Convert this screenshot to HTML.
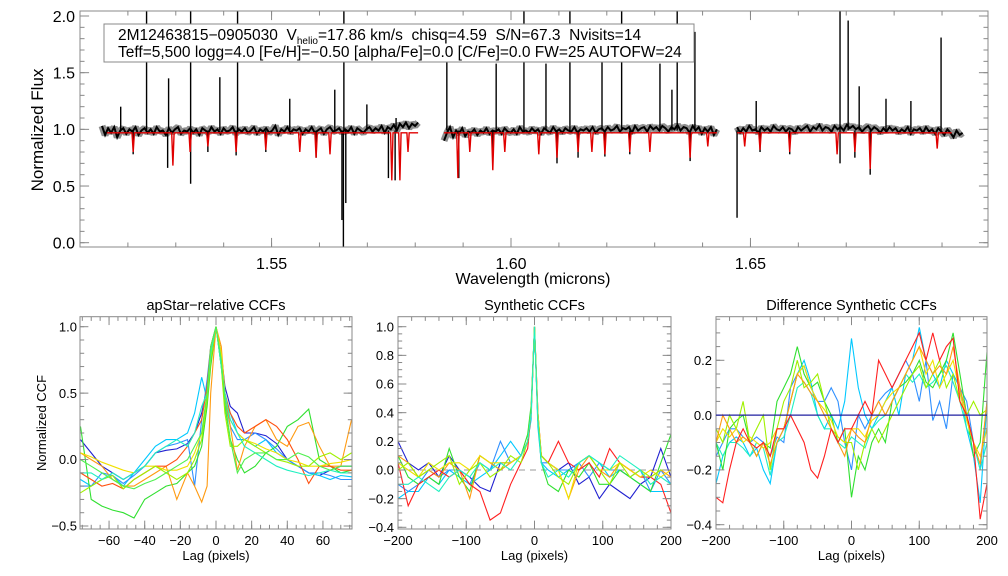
<!DOCTYPE html>
<html><head><meta charset="utf-8">
<style>
html,body{margin:0;padding:0;background:#fff;}
svg{display:block;font-family:"Liberation Sans",sans-serif;}
</style></head>
<body>
<svg id="chart" width="1008" height="576" viewBox="0 0 1008 576" xmlns="http://www.w3.org/2000/svg">
<rect x="0" y="0" width="1008" height="576" fill="#fff"/>
</svg>
<script>
// ---------- Spectrum data ----------
const chipStart = [1.5146, 1.5860, 1.6472];
const chipEnd = [1.5806, 1.6430, 1.6943];
const chip1Flux = [1.03,0.95,1.01,0.97,1.02,0.93,0.99,1.01,0.96,1.00,0.98,1.02,0.95,0.99,1.01,0.97,1.00,0.96,1.02,0.98,0.99,0.95,1.01,0.97,1.00,1.02,0.96,0.99,0.98,1.01,0.97,1.00,0.95,1.01,0.99,0.97,1.02,0.98,1.00,0.96,1.01,0.98,0.99,1.02,0.96,1.00,0.98,1.01,0.97,0.99,1.02,0.96,1.00,0.98,1.01,0.97,0.99,1.03,0.95,1.00,0.98,1.02,0.97,1.00,0.99,1.01,0.96,1.00,0.98,1.02,0.97,0.99,1.01,0.96,1.00,1.02,0.98,0.99,1.01,0.97,1.00,0.98,1.02,0.96,1.01,0.99,0.97,1.00,1.02,0.98,1.01,0.99,1.03,0.97,1.02,1.00,1.04,0.99,1.05,1.02,1.06,1.01,1.05,1.03,1.06];
const chip2Flux = [0.90,0.97,1.02,0.93,0.99,0.96,1.01,0.94,0.98,0.97,1.00,0.95,0.99,0.97,1.01,0.96,0.99,0.98,1.00,0.96,1.01,0.98,0.97,1.00,0.96,1.02,0.98,0.99,0.97,1.01,0.98,1.00,0.96,1.01,0.99,0.97,1.02,0.98,1.00,0.97,1.01,0.99,0.98,1.02,0.97,1.00,0.99,1.01,0.98,1.02,0.97,1.00,1.01,0.98,1.02,0.99,1.00,1.03,0.98,1.01,1.00,1.02,0.97,1.03,0.99,1.01,1.02,0.98,1.03,1.00,1.02,0.99,1.03,1.01,0.98,1.02,1.00,1.04,0.99,1.02,1.01,0.97,1.03,0.99,1.02,0.96,1.01,0.98,1.02,0.95,1.00];
const chip3Flux = [1.02,0.97,1.01,0.98,1.03,0.99,1.00,0.97,1.02,0.99,1.01,0.98,1.03,1.00,0.99,1.02,0.98,1.01,1.00,0.97,1.02,0.99,1.01,1.03,0.98,1.02,1.00,1.04,0.99,1.02,1.01,0.98,1.03,1.00,1.02,0.99,1.04,1.01,1.03,1.00,1.02,0.98,1.01,1.03,0.99,1.02,1.00,0.97,1.01,0.98,1.02,0.99,1.01,0.97,1.00,0.98,1.02,0.96,1.00,0.99,1.01,0.97,1.02,0.98,1.00,0.96,1.01,0.98,0.95,1.00,0.97,0.93,0.99,0.95,0.97];
const spikeWl = [1.5185,1.5239,1.5285,1.5331,1.5392,1.5429,1.5538,1.5632,1.5651,1.5699,1.5760,1.5866,1.5969,1.6027,1.6073,1.6123,1.6190,1.6231,1.6311,1.6336,1.6347,1.6384,1.6512,1.6687,1.6704,1.6727,1.6783,1.6835,1.6898];
const spikeFlux = [1.2,2.05,1.45,2.05,1.46,2.05,1.27,1.35,2.05,1.22,1.1,1.61,1.58,2.05,1.58,2.05,1.6,2.05,1.58,1.35,2.05,1.86,1.25,2.05,1.96,1.38,1.27,1.25,1.81];
const dipWl = [1.5650,1.5647,1.5655,1.5331,1.5283,1.5758,1.5744,1.5891,1.5962,1.6472,1.6750,1.6687,1.5211,1.5367,1.5488,1.5593,1.6096,1.6140,1.6248,1.6374,1.6582,1.6718,1.5426,1.6196,1.6520];
const dipFlux = [-0.05,0.2,0.35,0.52,0.66,0.55,0.57,0.57,0.65,0.22,0.6,0.7,0.78,0.8,0.8,0.75,0.7,0.75,0.78,0.72,0.78,0.75,0.77,0.76,0.8];
const modelDipWl = [1.5211,1.5294,1.5330,1.5367,1.5426,1.5488,1.5559,1.5593,1.5622,1.5751,1.5768,1.5785,1.5889,1.5914,1.5962,1.5987,1.6058,1.6096,1.6140,1.6169,1.6196,1.6248,1.6290,1.6374,1.6411,1.6488,1.6520,1.6582,1.6681,1.6718,1.6750,1.6890];
const modelDipFlux = [0.8,0.68,0.8,0.85,0.8,0.82,0.8,0.75,0.78,0.55,0.55,0.8,0.57,0.8,0.64,0.8,0.78,0.75,0.8,0.8,0.78,0.8,0.8,0.75,0.85,0.85,0.82,0.8,0.78,0.8,0.65,0.83];
const modelContinuum = 0.97;
const topXTicks = [1.55,1.60,1.65];
const topYTicks = [0.0,0.5,1.0,1.5,2.0];

// ---------- CCF data ----------
const colors = ['#2020d0','#00c8ff','#3090ff','#30e030','#ff9a10','#ff5010','#f0e000','#a0f000','#20f0c0','#50f050'];
const lag1 = [-76,-70,-64,-58,-52,-46,-40,-34,-28,-22,-16,-12,-8,-5,-3,0,3,5,8,12,16,22,28,34,40,46,52,58,64,70,76];
const ccf1 = [
[0.15,0.05,-0.05,-0.1,-0.15,-0.1,-0.05,0.05,0.07,0.08,0.12,0.2,0.35,0.55,0.8,1.0,0.8,0.55,0.4,0.35,0.2,0.2,0.18,0.12,0.0,-0.05,-0.1,-0.12,-0.08,-0.05,-0.05],
[-0.15,-0.2,-0.15,-0.12,-0.2,-0.1,0.0,0.1,0.15,0.15,0.2,0.35,0.62,0.45,0.8,1.0,0.75,0.45,0.35,0.2,0.15,0.1,0.15,0.05,0.0,-0.05,-0.1,-0.12,-0.15,-0.12,-0.13],
[-0.2,-0.2,-0.1,-0.12,-0.18,-0.12,-0.05,0.05,0.1,0.12,0.15,-0.2,0.3,0.6,0.85,1.0,0.7,0.45,0.25,0.15,0.15,0.2,0.15,0.08,0.0,-0.05,-0.1,-0.1,-0.12,-0.15,-0.15],
[0.25,-0.3,-0.35,-0.38,-0.4,-0.44,-0.3,-0.25,-0.2,-0.18,-0.1,-0.05,0.1,0.4,0.7,1.0,0.7,0.4,0.15,0.0,-0.1,-0.05,0.05,0.1,0.25,0.3,0.38,0.0,-0.05,-0.1,-0.08],
[0.05,0.0,-0.05,-0.15,-0.2,-0.2,-0.15,-0.1,-0.05,-0.3,-0.1,-0.2,-0.32,-0.2,0.5,1.0,0.85,0.5,0.25,-0.08,0.1,0.25,0.3,0.15,0.1,0.25,0.28,0.1,-0.05,-0.05,0.3],
[-0.1,-0.15,-0.2,-0.18,-0.22,-0.15,-0.1,-0.05,-0.05,0.0,0.1,0.2,0.3,0.55,0.85,1.0,0.75,0.5,0.35,0.25,0.2,0.25,0.3,0.25,0.15,0.0,-0.18,-0.05,-0.05,-0.08,-0.08],
[0.05,0.02,-0.02,-0.05,-0.08,-0.1,-0.05,-0.05,-0.08,-0.08,-0.05,0.05,0.2,0.5,0.8,1.0,0.8,0.5,0.3,0.2,0.15,0.12,0.08,0.05,0.0,-0.02,-0.05,-0.05,-0.03,-0.02,0.0],
[-0.25,-0.2,-0.15,-0.12,-0.22,-0.15,-0.1,-0.05,-0.1,-0.15,-0.1,0.0,0.15,0.45,0.75,1.0,0.7,0.35,0.1,0.1,0.15,0.1,0.05,0.0,-0.02,-0.05,-0.05,0.02,0.05,0.0,0.05],
[-0.1,-0.1,-0.15,-0.1,-0.15,-0.1,-0.05,0.05,0.1,0.15,0.1,0.2,0.4,0.5,0.8,1.0,0.7,0.5,0.3,0.2,0.1,0.05,0.0,-0.05,-0.08,-0.1,-0.12,-0.1,-0.08,-0.1,-0.1],
[0.0,-0.05,-0.1,-0.15,-0.2,-0.22,-0.18,-0.15,-0.1,-0.05,0.0,0.1,0.2,0.5,0.85,1.0,0.75,0.45,0.15,-0.1,0.0,0.05,0.05,0.0,0.0,0.05,0.02,-0.05,-0.08,-0.05,-0.05]];
const lag2 = [-200,-185,-170,-155,-140,-125,-110,-95,-80,-65,-50,-35,-20,-10,-5,0,5,10,20,35,50,65,80,95,110,125,140,155,170,185,200];
const ccf2 = [
[0.2,0.05,0.0,0.05,-0.05,0.1,0.0,-0.05,-0.12,-0.15,0.05,0.05,0.1,0.2,0.4,1.0,0.35,0.1,0.05,0.0,0.05,-0.1,-0.05,-0.2,-0.1,-0.15,-0.2,-0.1,-0.05,0.15,-0.05],
[-0.2,-0.15,-0.15,-0.05,-0.1,0.0,-0.05,-0.1,-0.05,0.0,0.1,0.2,0.1,0.2,0.35,1.0,0.3,0.05,0.0,-0.05,0.0,0.05,0.1,0.05,-0.05,0.0,-0.05,-0.1,-0.15,-0.15,-0.15],
[-0.1,-0.15,-0.1,0.0,-0.05,0.0,0.0,-0.1,0.05,0.0,0.2,0.05,0.1,0.2,0.4,1.0,0.35,0.05,0.05,0.0,0.0,0.05,-0.05,0.05,0.0,0.0,-0.05,0.0,-0.15,0.0,-0.1],
[0.1,-0.05,-0.1,-0.05,-0.1,0.15,-0.05,-0.15,0.1,0.05,0.0,0.05,0.1,0.25,0.45,1.0,0.35,0.05,-0.1,-0.15,0.0,-0.05,0.05,-0.1,-0.1,0.0,-0.05,-0.1,-0.15,0.05,0.25],
[0.1,0.05,-0.05,0.0,-0.05,0.05,0.0,-0.2,0.1,0.05,0.0,0.05,0.1,0.2,0.4,1.0,0.4,0.1,0.05,0.0,-0.2,0.0,0.1,0.0,-0.05,0.05,0.0,-0.05,-0.05,0.0,-0.05],
[0.05,-0.25,-0.1,-0.05,0.0,-0.05,0.0,-0.1,-0.15,-0.35,-0.3,-0.1,0.05,0.15,0.4,1.0,0.4,0.1,0.05,0.2,0.05,0.0,0.05,-0.05,0.15,0.05,0.0,-0.05,-0.05,-0.1,-0.3],
[0.05,0.0,-0.05,0.05,0.0,0.05,0.05,0.0,0.1,0.05,0.05,0.05,0.1,0.2,0.4,1.0,0.4,0.1,0.05,0.0,-0.2,0.05,0.1,0.0,0.0,0.05,0.0,-0.05,0.0,-0.05,0.0],
[0.0,0.05,-0.05,0.0,0.05,0.1,-0.1,0.0,0.05,-0.05,0.0,0.1,0.05,0.2,0.4,1.0,0.35,0.1,0.05,-0.05,-0.1,0.05,0.1,0.0,-0.1,0.05,-0.05,0.0,-0.05,0.0,0.0],
[-0.1,-0.1,-0.05,-0.1,-0.15,-0.05,0.0,-0.05,0.05,0.0,0.05,0.0,0.1,0.2,0.4,1.0,0.35,0.05,-0.05,0.0,-0.05,0.05,0.1,0.05,0.0,0.1,0.05,0.0,-0.1,-0.05,-0.1]];
const ccf2Colors = ['#2020d0','#00c8ff','#3090ff','#30e030','#ff9a10','#ff2020','#f0e000','#a0f000','#20f0c0'];
const lag3 = [-200,-190,-180,-170,-160,-150,-140,-130,-120,-110,-100,-90,-80,-70,-60,-50,-40,-30,-20,-10,0,10,20,30,40,50,60,70,80,90,100,110,120,130,140,150,160,170,180,190,200];
const ccf3 = [
[-0.15,-0.1,-0.05,-0.05,-0.08,-0.1,-0.08,-0.1,-0.15,-0.08,-0.1,0.1,0.15,0.18,0.1,0.05,0.05,0.1,0.05,-0.1,-0.2,0.0,-0.05,0.0,0.05,0.08,0.1,0.15,0.2,0.15,0.05,0.2,-0.02,0.05,-0.05,0.15,0.1,0.05,-0.1,-0.2,0.05],
[-0.25,-0.15,-0.1,-0.08,-0.1,-0.15,-0.12,-0.2,-0.25,-0.1,-0.05,0.05,0.15,0.2,0.12,0.0,-0.05,0.0,-0.05,0.05,0.28,0.1,0.0,-0.05,0.0,0.05,0.1,0.0,0.15,0.2,0.32,0.2,0.15,0.1,0.2,0.15,0.1,-0.05,-0.15,-0.32,0.05],
[-0.1,-0.15,-0.1,-0.1,-0.12,-0.15,-0.1,-0.12,-0.22,-0.1,-0.08,0.0,0.1,0.12,0.08,0.0,-0.05,-0.05,-0.1,-0.12,-0.08,-0.1,-0.12,-0.05,-0.02,0.0,0.05,0.1,0.15,0.12,0.15,0.1,0.12,0.15,0.18,0.12,0.05,-0.05,-0.1,-0.2,-0.1],
[-0.1,-0.2,-0.05,-0.02,0.0,-0.1,-0.15,-0.1,-0.12,0.05,0.1,0.15,0.25,0.15,0.1,0.12,0.05,0.0,-0.1,-0.05,-0.3,-0.15,-0.2,-0.1,-0.05,-0.1,0.05,0.1,0.12,0.15,0.2,0.12,0.1,0.15,0.2,0.3,0.15,0.0,-0.15,-0.1,0.23],
[-0.05,-0.1,0.0,-0.05,0.05,-0.1,-0.05,0.0,-0.2,-0.05,0.05,0.1,0.2,0.1,0.12,0.15,0.05,-0.05,-0.08,-0.1,-0.1,-0.2,-0.1,-0.05,-0.1,-0.05,0.0,0.05,0.1,0.15,0.18,0.1,0.15,0.2,0.1,0.15,0.05,0.0,0.05,0.0,0.02],
[-0.1,-0.05,-0.08,-0.05,-0.1,-0.08,-0.1,-0.12,-0.1,-0.05,-0.05,0.05,0.15,0.18,0.1,0.05,0.02,-0.02,-0.08,-0.1,-0.05,-0.05,-0.08,-0.02,0.0,0.05,0.08,0.1,0.15,0.2,0.25,0.15,0.2,0.1,0.15,0.2,0.08,-0.02,-0.1,-0.15,-0.05],
[-0.1,0.0,-0.05,-0.1,-0.08,-0.1,-0.15,-0.1,-0.18,-0.1,-0.05,0.05,0.15,0.12,0.08,0.05,0.0,-0.05,-0.1,-0.15,-0.05,-0.08,-0.1,0.0,0.05,0.0,0.05,0.1,0.15,0.2,0.25,0.2,0.15,0.18,0.15,0.25,0.1,0.0,-0.1,-0.18,0.05],
[-0.3,-0.32,-0.2,-0.1,-0.05,-0.1,-0.12,-0.1,-0.15,-0.05,-0.05,0.0,-0.05,-0.1,-0.2,-0.23,-0.15,-0.05,-0.1,-0.05,-0.05,0.0,0.05,0.0,0.2,0.15,0.1,0.15,0.2,0.25,0.3,0.2,0.3,0.2,0.25,0.28,0.05,0.0,-0.1,-0.38,-0.25]];
const ccf3Colors = ['#3090ff','#00c8ff','#20f0c0','#30e030','#a0f000','#f0e000','#ff9a10','#ff2020'];

const NS = 'http://www.w3.org/2000/svg';
const svg = document.getElementById('chart');
function el(tag, attrs, parent){
  const e = document.createElementNS(NS, tag);
  for (const k in attrs) e.setAttribute(k, attrs[k]);
  (parent||svg).appendChild(e);
  return e;
}
function lin(d0,d1,r0,r1){ return v => r0 + (v-d0)*(r1-r0)/(d1-d0); }

function drawFrame(name, x0,x1,y0,y1, sx, sy, xMaj, xMin, yMaj, yMin, xLabelFmt, yLabelFmt, fs, xLabY, yLabX){
  const g = el('g', {});
  
  
  const fr = el('rect', {x:x0,y:y0,width:x1-x0,height:y1-y0,fill:'none',stroke:'#888','stroke-width':1}, g);
  
  
  const H = y1-y0, W = x1-x0;
  const majL = Math.min(H,W)*0.03+2, minL = majL/2;
  xMin.forEach(v=>{ const x=sx(v); el('line',{x1:x,x2:x,y1:y1,y2:y1-minL,stroke:'#888'},g); el('line',{x1:x,x2:x,y1:y0,y2:y0+minL,stroke:'#888'},g); });
  xMaj.forEach(v=>{ const x=sx(v); el('line',{x1:x,x2:x,y1:y1,y2:y1-majL,stroke:'#888'},g); el('line',{x1:x,x2:x,y1:y0,y2:y0+majL,stroke:'#888'},g);
    const t = el('text',{x:x,y:xLabY,'font-size':fs,'text-anchor':'middle',fill:'#000'},g); t.textContent = xLabelFmt(v);
      });
  yMin.forEach(v=>{ const y=sy(v); el('line',{x1:x0,x2:x0+minL,y1:y,y2:y,stroke:'#888'},g); el('line',{x1:x1,x2:x1-minL,y1:y,y2:y,stroke:'#888'},g); });
  yMaj.forEach(v=>{ const y=sy(v); el('line',{x1:x0,x2:x0+majL,y1:y,y2:y,stroke:'#888'},g); el('line',{x1:x1,x2:x1-majL,y1:y,y2:y,stroke:'#888'},g);
    const t = el('text',{x:yLabX,y:y+fs*0.36,'font-size':fs,'text-anchor':'end',fill:'#000'},g); t.textContent = yLabelFmt(v);
      });
}
function range(a,b,s){ const r=[]; for(let v=a; v<=b+1e-9; v+=s) r.push(Math.round(v*1e6)/1e6); return r; }
function fmtNeg(s){ return s.replace('-', '\u2212'); }

// ---------- Top spectrum ----------
const TX0=80, TX1=988, TY0=11, TY1=247;
const sxT = lin(1.51, 1.6996, TX0, TX1);
const syT = lin(0, 2, 242.7, 16);
const clipT = el('clipPath',{id:'clipTop'}); el('rect',{x:TX0,y:TY0,width:TX1-TX0,height:TY1-TY0},clipT);
const chips = [chip1Flux, chip2Flux, chip3Flux];
const specG = el('g',{'clip-path':'url(#clipTop)'});


chips.forEach((arr,ci)=>{
  const step = (chipEnd[ci]-chipStart[ci])/(arr.length-1);
  const pts = arr.map((f,i)=> sxT(chipStart[ci]+i*step).toFixed(1)+','+syT(f).toFixed(1)).join(' ');
  const band = el('polyline',{points:pts,fill:'none',stroke:'#333','stroke-width':7,'stroke-opacity':0.55,'stroke-linejoin':'bevel'},specG);
  
  
  const p = el('polyline',{points:pts,fill:'none',stroke:'#000','stroke-width':2},specG);
  
  
});
spikeWl.forEach((w,i)=>{
  const x=sxT(w);
  const l = el('line',{x1:x,x2:x,y1:syT(0.99),y2:syT(spikeFlux[i]),stroke:'#000','stroke-width':1.4},specG);
  
  
});
dipWl.forEach((w,i)=>{
  const x=sxT(w);
  const l = el('line',{x1:x,x2:x,y1:syT(0.99),y2:syT(dipFlux[i]),stroke:'#000','stroke-width':1.4},specG);
  
  
});
// model
const modelG = el('g',{'clip-path':'url(#clipTop)'});


[[1.5156,chipEnd[0]],[chipStart[1],chipEnd[1]],[chipStart[2],1.6920]].forEach((c,ci)=>{
  let pts=[[c[0],modelContinuum]];
  modelDipWl.forEach((w,i)=>{ if(w>c[0]&&w<c[1]){ pts.push([w-0.00025,modelContinuum],[w,modelDipFlux[i]],[w+0.00025,modelContinuum]); }});
  pts.push([c[1],modelContinuum]);
  const p = el('polyline',{points:pts.map(q=>sxT(q[0]).toFixed(1)+','+syT(q[1]).toFixed(1)).join(' '),fill:'none',stroke:'#e00000','stroke-width':1.4},modelG);
  
  
});
drawFrame('spectrum', TX0,TX1,TY0,TY1, sxT, syT, topXTicks, range(1.51,1.69,0.01), topYTicks, range(0,2,0.1), v=>v.toFixed(2), v=>v.toFixed(1), 16, 269, 75);
// legend box
const lg = el('g',{});


el('rect',{x:104,y:24,width:590,height:38,fill:'#fff',stroke:'#888'},lg);
const t1 = el('text',{x:118,y:40,'font-size':15.5,fill:'#000'},lg);
t1.innerHTML = '2M12463815\u22120905030  V<tspan font-size="10" dy="4">helio</tspan><tspan dy="-4">=17.86 km/s  chisq=4.59  S/N=67.3  Nvisits=14</tspan>';
t1.setAttribute('xml:space','preserve'); t1.style.whiteSpace='pre';
const t2 = el('text',{x:118,y:57,'font-size':15.5,fill:'#000'},lg);
t2.textContent = 'Teff=5,500 logg=4.0 [Fe/H]=\u22120.50 [alpha/Fe]=0.0 [C/Fe]=0.0 FW=25 AUTOFW=24';
const yt = el('text',{x:0,y:0,'font-size':17,'text-anchor':'middle',transform:'translate(43,130) rotate(-90)'});
yt.textContent='Normalized Flux';
 
const xt = el('text',{x:533,y:284,'font-size':16,'text-anchor':'middle'});
xt.textContent='Wavelength (microns)';
 

// ---------- CCF panels ----------
function panel(name, title, x0,x1, xd0,xd1, yd0,yd1, yAt1, vAt1, yAt2, vAt2, lags, series, cols, xMaj, xMin, yMaj, yMin, yfmt, labX){
  const y0=316.7, y1=529;
  const sx = lin(xd0,xd1,x0,x1);
  const sy = lin(vAt1, vAt2, yAt1, yAt2);
  const cid = 'clip-'+name;
  const cp = el('clipPath',{id:cid}); el('rect',{x:x0,y:y0,width:x1-x0,height:y1-y0},cp);
  const g = el('g',{'clip-path':'url(#'+cid+')'});
  
  
  series.forEach((s,i)=>{
    const pts = s.map((v,j)=> sx(lags[j]).toFixed(1)+','+sy(v).toFixed(1)).join(' ');
    const p = el('polyline',{points:pts,fill:'none',stroke:cols[i%cols.length],'stroke-width':1.1},g);
    
    
  });
  drawFrame(name, x0,x1,y0,y1, sx, sy, xMaj, xMin, yMaj, yMin, v=>fmtNeg(String(v)), yfmt, 13, 545, labX);
  const tt = el('text',{x:(x0+x1)/2,y:310,'font-size':14.5,'text-anchor':'middle'});
  tt.textContent = title;
   
  const xl = el('text',{x:(x0+x1)/2,y:560,'font-size':13,'text-anchor':'middle'});
  xl.textContent = 'Lag (pixels)';
   
  return {sx, sy, g};
}
panel('apstar-relative','apStar\u2212relative CCFs', 80,352, -76.3,76.3, 0,0, 326.7,1.0, 526,-0.5, lag1, ccf1, colors,
  [-60,-40,-20,0,20,40,60], range(-75,75,5), [-0.5,0,0.5,1.0], range(-0.5,1.0,0.1), v=>fmtNeg(v.toFixed(1)), 77);
const yl = el('text',{x:0,y:0,'font-size':13,'text-anchor':'middle',transform:'translate(46,423) rotate(-90)'});
 
yl.textContent='Normalized CCF';
const p2 = panel('synthetic','Synthetic CCFs', 398,671, -200,200, 0,0, 326.7,1.0, 527.3,-0.4, lag2, ccf2, ccf2Colors,
  [-200,-100,0,100,200], range(-200,200,20), range(-0.4,1.0,0.2), range(-0.4,1.0,0.05), v=>fmtNeg(v.toFixed(1)), 394);
const zl = el('line',{x1:398,x2:671,y1:p2.sy(0),y2:p2.sy(0),stroke:'#999','stroke-dasharray':'6,5','stroke-width':1});
 
svg.insertBefore(zl, p2.g);
const p3 = panel('difference','Difference Synthetic CCFs', 716,987, -200,200, 0,0, 360.3,0.2, 524.7,-0.4, lag3, ccf3, ccf3Colors,
  [-200,-100,0,100,200], range(-200,200,20), [-0.4,-0.2,0.0,0.2], range(-0.4,0.35,0.05), v=>fmtNeg(v.toFixed(1)), 712);
const zl3 = el('line',{x1:716,x2:987,y1:p3.sy(0),y2:p3.sy(0),stroke:'#2020a0','stroke-width':1.2});
 
</script>
</body></html>
